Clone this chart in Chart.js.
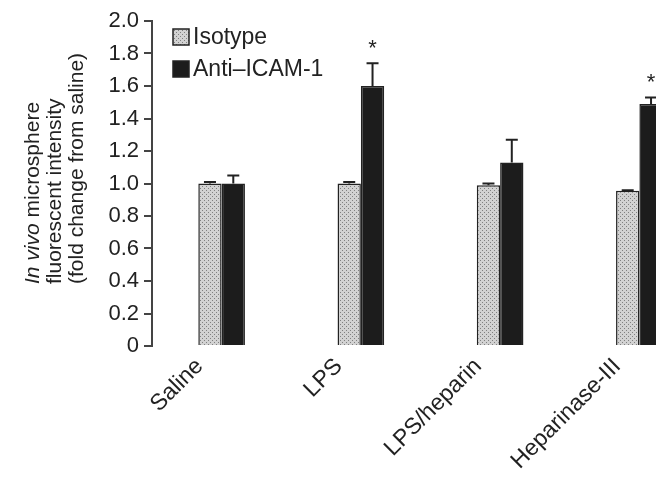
<!DOCTYPE html>
<html>
<head>
<meta charset="utf-8">
<script src="https://cdn.jsdelivr.net/npm/chart.js@4.4.0/dist/chart.umd.min.js"></script>
<style>
  html, body { margin: 0; padding: 0; background: #fff; overflow: hidden; }
  #wrap { position: relative; width: 656px; height: 477px; overflow: hidden; }
  #chart { position: absolute; left: 0; top: 0; }
</style>
</head>
<body>
<div id="wrap"><canvas id="chart" width="720" height="477"></canvas></div>
<script>
// values
const categories = ['Saline', 'LPS', 'LPS/heparin', 'Heparinase-III'];
const isotypeValues = [1.0, 1.0, 0.99, 0.955];
const isotypeErrors = [0.01, 0.01, 0.01, 0.004];
const antiValues = [1.0, 1.6, 1.13, 1.49];
const antiErrors = [0.05, 0.14, 0.14, 0.04];
const antiSignificant = [false, true, false, true];
const yTickValues = [0, 0.2, 0.4, 0.6, 0.8, 1.0, 1.2, 1.4, 1.6, 1.8, 2.0];
const yTitleLines = ['In vivo microsphere', 'fluorescent intensity', '(fold change from saline)'];

const FONT = "'Liberation Sans', Arial, sans-serif";
const INK = '#222';

const canvas = document.getElementById('chart');
const ctx = canvas.getContext('2d');

// dotted fill used for the isotype bars
function dotPattern() {
    const c = document.createElement('canvas');
    c.width = 4; c.height = 4;
    const g = c.getContext('2d');
    g.fillStyle = '#d2d2d2';
    g.fillRect(0, 0, 4, 4);
    g.fillStyle = '#808080';
    g.fillRect(0, 0, 1, 1);
    g.fillRect(2, 2, 1, 1);
    return ctx.createPattern(c, 'repeat');
}
const isoFill = dotPattern();

const errorBars = {
    id: 'errorBars',
    afterDatasetsDraw(chart) {
        const c = chart.ctx;
        const y = chart.scales.y;
        const errs = [isotypeErrors, antiErrors];
        chart.data.datasets.forEach((ds, d) => {
            chart.getDatasetMeta(d).data.forEach((bar, i) => {
                const top = y.getPixelForValue(ds.data[i] + errs[d][i]);
                c.save();
                c.strokeStyle = INK;
                c.lineWidth = 2;
                c.beginPath();
                c.moveTo(bar.x, bar.y);
                c.lineTo(bar.x, top);
                c.moveTo(bar.x - 6, top);
                c.lineTo(bar.x + 6, top);
                c.stroke();
                if (d === 1 && antiSignificant[i]) {
                    c.fillStyle = INK;
                    c.font = '22px ' + FONT;
                    c.textAlign = 'center';
                    c.textBaseline = 'middle';
                    c.fillText('*', bar.x, top - 14);
                }
                c.restore();
            });
        });
    }
};

const sideLegend = {
    id: 'sideLegend',
    afterDraw(chart) {
        const c = chart.ctx;
        const x = 173, size = 16;
        const rows = [37, 69];
        c.save();
        c.font = '23px ' + FONT;
        c.textBaseline = 'middle';
        c.textAlign = 'left';
        chart.data.datasets.forEach((ds, d) => {
            const cy = rows[d];
            c.fillStyle = ds.backgroundColor;
            c.fillRect(x, cy - size / 2, size, size);
            c.strokeStyle = INK;
            c.lineWidth = 1.5;
            c.strokeRect(x, cy - size / 2, size, size);
            c.fillStyle = INK;
            c.fillText(ds.label, x + size + 4, cy + 1);
        });
        c.restore();
    }
};

const yTitle = {
    id: 'yTitle',
    afterDraw(chart) {
        const c = chart.ctx;
        const xs = [33, 55, 77];
        const start = 284;
        c.save();
        c.fillStyle = INK;
        c.textBaseline = 'middle';
        c.textAlign = 'left';
        yTitleLines.forEach((line, k) => {
            c.save();
            c.translate(xs[k], start);
            c.rotate(-Math.PI / 2);
            if (k === 0) {
                c.font = 'italic 21px ' + FONT;
                const it = 'In vivo';
                c.fillText(it, 0, 0);
                const w = c.measureText(it).width;
                c.font = '21px ' + FONT;
                c.fillText(line.slice(it.length), w, 0);
            } else {
                c.font = '21px ' + FONT;
                c.fillText(line, 0, 0);
            }
            c.restore();
        });
        c.restore();
    }
};

const chart = new Chart(ctx, {
    type: 'bar',
    data: {
        labels: categories,
        datasets: [{
            label: 'Isotype',
            data: isotypeValues,
            backgroundColor: isoFill,
            borderColor: INK,
            borderWidth: 1.5
        }, {
            label: 'Anti\u2013ICAM-1',
            data: antiValues,
            backgroundColor: '#1c1c1c',
            borderColor: INK,
            borderWidth: 1.5
        }]
    },
    options: {
        responsive: false,
        animation: false,
        layout: { padding: { top: 21, right: 11, left: 0, bottom: 0 } },
        datasets: {
            bar: { categoryPercentage: 0.335, barPercentage: 1.0 }
        },
        plugins: {
            legend: { display: false },
            tooltip: { enabled: false }
        },
        scales: {
            x: {
                grid: { display: false, drawTicks: false },
                border: { display: false },
                ticks: {
                    color: INK,
                    font: { family: FONT, size: 23 },
                    minRotation: 45,
                    maxRotation: 45,
                    autoSkip: false,
                    padding: 7,
                    labelOffset: -22
                },
                afterFit(scale) { scale.height = 131; }
            },
            y: {
                min: 0,
                max: 2.0,
                afterBuildTicks(scale) {
                    scale.ticks = yTickValues.map(v => ({ value: v }));
                },
                grid: {
                    drawOnChartArea: false,
                    tickLength: 8,
                    color: '#444',
                    lineWidth: 2
                },
                border: { color: '#444', width: 2 },
                ticks: {
                    color: INK,
                    font: { family: FONT, size: 22 },
                    padding: 5,
                    callback: v => v === 0 ? '0' : v.toFixed(1)
                },
                afterFit(scale) { scale.width = 152; }
            }
        }
    },
    plugins: [errorBars, sideLegend, yTitle]
});
</script>
</body>
</html>
